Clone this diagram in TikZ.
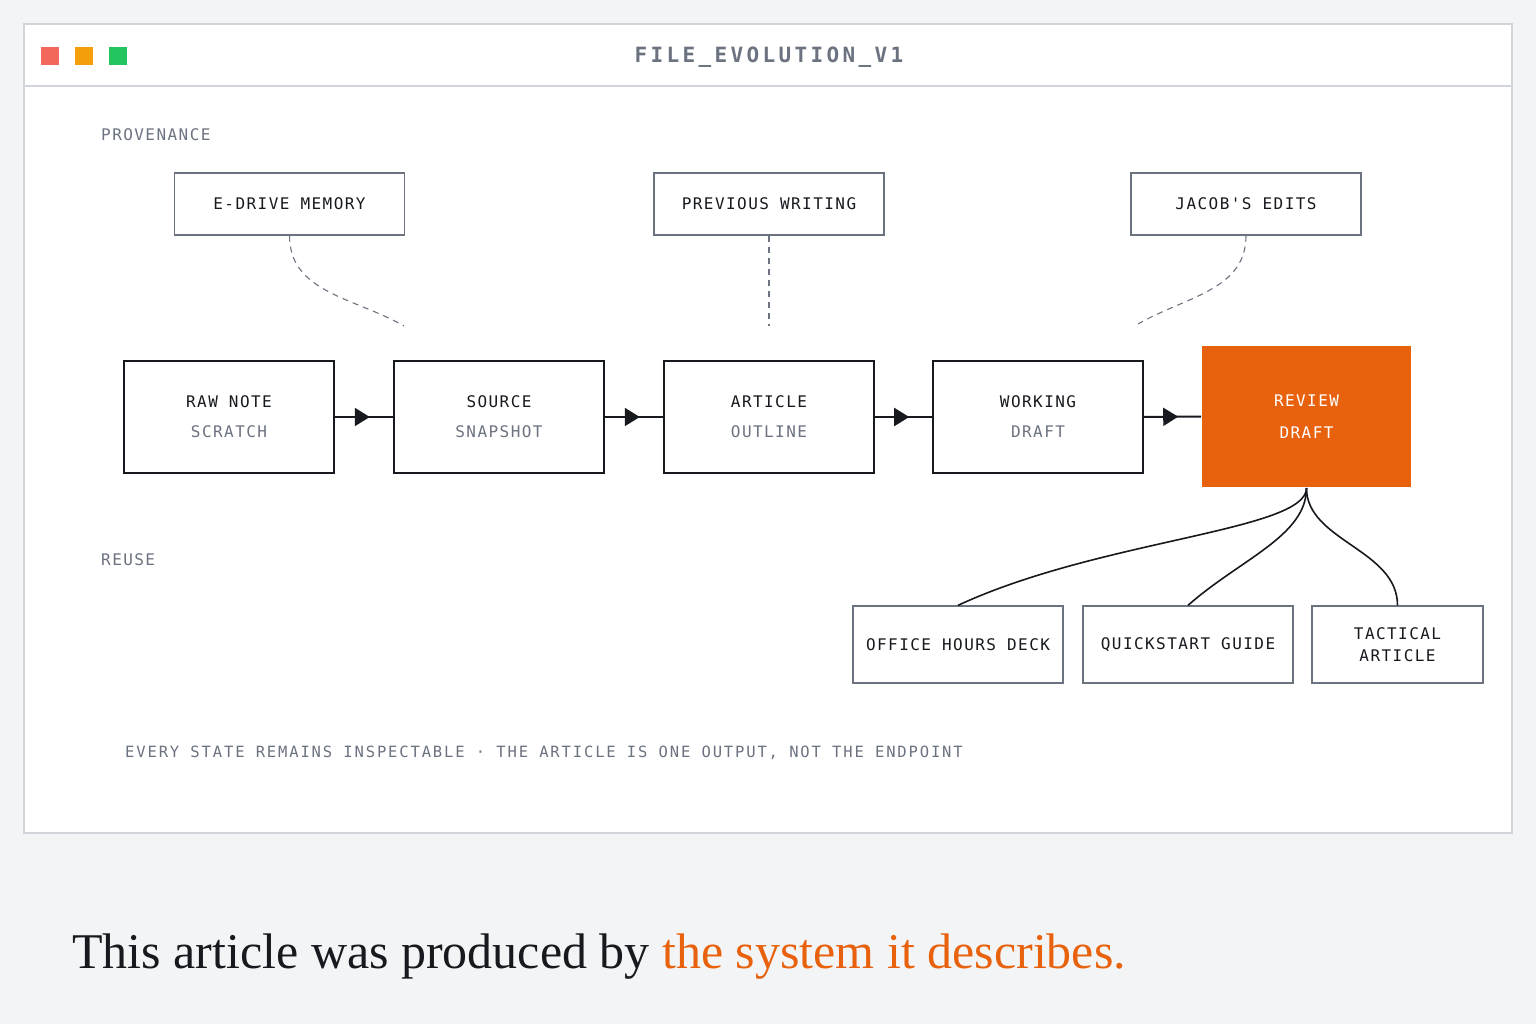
\documentclass[tikz,border=0pt]{standalone}
\usepackage{fontspec}
\setmainfont{Liberation Serif}
\newfontfamily\labelfont[LetterSpace=9]{DejaVu Sans Mono}
\newfontfamily\notefont[LetterSpace=12]{DejaVu Sans Mono}
\newfontfamily\headfont[LetterSpace=16]{DejaVu Sans Mono Bold}
\usetikzlibrary{arrows.meta,decorations.markings}
\definecolor{page}{HTML}{F3F4F6}
\definecolor{frameline}{HTML}{D1D5DB}
\definecolor{ink}{HTML}{16191E}
\definecolor{muted}{HTML}{6B7280}
\definecolor{accent}{HTML}{E8610C}
\definecolor{dotred}{HTML}{F2685A}
\definecolor{dotamber}{HTML}{F59E0B}
\definecolor{dotgreen}{HTML}{22C55E}
\tikzset{
  stage/.style={draw=ink,line width=2pt,fill=white,minimum width=210pt,minimum height=112pt,
    inner sep=0pt,align=center,text=ink,font=\labelfont\fontsize{16}{30}\selectfont},
  source/.style={draw=muted,line width=1.3pt,fill=white,minimum width=230pt,minimum height=62pt,
    inner sep=0pt,align=center,text=ink,font=\labelfont\fontsize{16}{18}\selectfont},
  output/.style={draw=muted,line width=1.3pt,fill=white,minimum width=210pt,minimum height=77pt,
    inner sep=0pt,align=center,text=ink,font=\labelfont\fontsize{16}{22}\selectfont},
  dot/.style={minimum size=18pt,inner sep=0pt},
  tag/.style={anchor=base west,inner sep=0pt,text=muted,font=\labelfont\fontsize{16}{18}\selectfont},
  flow/.style={draw=ink,line width=2pt,postaction={decorate},
    decoration={markings,mark=at position 0.6 with {\arrow{Triangle[length=15pt,width=18pt]}}}},
  prov/.style={draw=muted,line width=1.1pt,dash pattern=on 6pt off 5pt},
  reuse/.style={draw=ink,line width=1.6pt},
}
\begin{document}
\begin{tikzpicture}[x=1pt,y=-1pt]
\fill[page] (0,0) rectangle (1536,1024);
\useasboundingbox (0,0) rectangle (1536,1024);
% window
\draw[frameline,fill=white,line width=1.2pt] (24,24) rectangle (1512,833);
\draw[frameline,line width=1.2pt] (24,86) -- (1512,86);
\node[dot,fill=dotred] (red) at (50,56) {};
\node[dot,fill=dotamber] (amber) at (84,56) {};
\node[dot,fill=dotgreen] (green) at (118,56) {};
\node[anchor=base,inner sep=0pt,text=muted,font=\headfont\fontsize{21}{24}\selectfont] (title) at (769,63) {FILE\_EVOLUTION\_V1};

% rows
\node[tag] (provenance) at (101,141) {PROVENANCE};
\node[tag] (reuse) at (101,565) {REUSE};

% sources
\node[source] (memory) at (289.5,204) {E-DRIVE MEMORY};
\node[source] (previous) at (769,204) {PREVIOUS WRITING};
\node[source] (edits) at (1246,204) {JACOB'S EDITS};
\coordinate (m1) at (404,326);
\coordinate (m2) at (769,326);
\coordinate (m3) at (1138,324);
\path[prov] (memory.south) to[out=-90,in=150] (m1);
\path[prov] (previous.south) -- (m2);
\path[prov] (edits.south) to[out=-90,in=30] (m3);

% chain
\node[stage] (raw) at (229,417) {RAW NOTE\\\textcolor{muted}{SCRATCH}};
\node[stage] (snap) at (499,417) {SOURCE\\\textcolor{muted}{SNAPSHOT}};
\node[stage] (outline) at (769,417) {ARTICLE\\\textcolor{muted}{OUTLINE}};
\node[stage] (working) at (1038,417) {WORKING\\\textcolor{muted}{DRAFT}};
\node[stage,draw=none,fill=accent,text=white,minimum width=209pt,minimum height=141pt,
  font=\labelfont\fontsize{16}{32}\selectfont] (review) at (1306.5,416.5) {REVIEW\\DRAFT};
\path[flow] (raw.east) -- (snap.west);
\path[flow] (snap.east) -- (outline.west);
\path[flow] (outline.east) -- (working.west);
\path[flow] (working.east) -- (review.west);

% outputs
\node[output] (deck) at (958,644.5) {OFFICE HOURS DECK};
\node[output] (guide) at (1188,644.5) {QUICKSTART GUIDE};
\node[output,minimum width=171pt] (tactical) at (1397.5,644.5) {TACTICAL\\ARTICLE};
\path[reuse] (review.south) .. controls +(0,43) and +(142,-66) .. (deck.north);
\path[reuse] (review.south) .. controls +(0,48) and +(52,-46) .. (guide.north);
\path[reuse] (review.south) .. controls +(0,53) and +(0,-56) .. (tactical.north);

\node[anchor=base west,inner sep=0pt,text=muted,font=\notefont\fontsize{15.5}{18}\selectfont] (note) at (125,757)
  {EVERY STATE REMAINS INSPECTABLE · THE ARTICLE IS ONE OUTPUT, NOT THE ENDPOINT};

\node[anchor=base west,inner sep=0pt,text=ink,font=\fontsize{50}{56}\selectfont] (caption) at (72,968)
  {This article was produced by \textcolor{accent}{the system it describes.}};
\end{tikzpicture}
\end{document}
